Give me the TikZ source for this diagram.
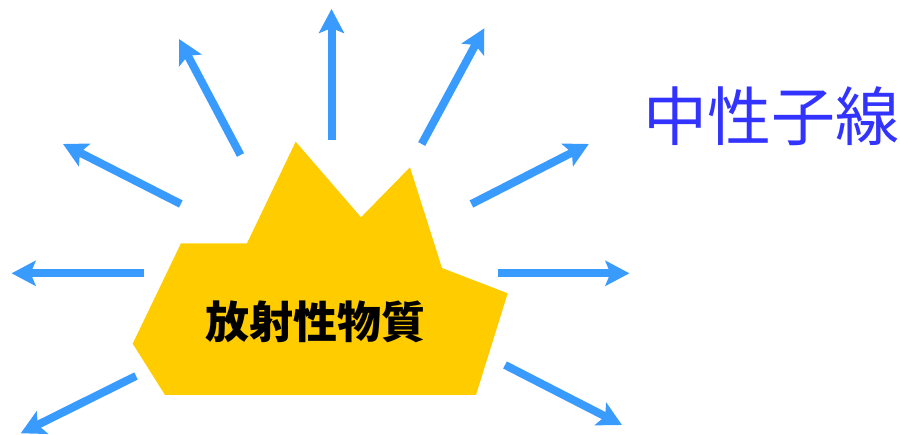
\documentclass[tikz,border=0pt]{standalone}
\usepackage{fontspec}
\newfontfamily\cjk{Noto Sans CJK JP}
\usetikzlibrary{arrows.meta}
\definecolor{rayblue}{RGB}{58,155,255}
\definecolor{matyellow}{RGB}{255,204,0}
\definecolor{labelblue}{RGB}{51,51,255}
\tikzset{
  ray/.style={draw=rayblue, line width=8pt, -{Stealth[length=24pt, width=25pt, inset=5pt]}},
  matter/.style={fill=matyellow, draw=none},
}
\begin{document}
\begin{tikzpicture}[x=1pt, y=-1pt]
\useasboundingbox (0,0) rectangle (900,435);
% radioactive material
\fill[matter] (295.7,141.7) -- (361,217.3) -- (410,167.3) -- (442,268) -- (507.7,293.3)
  -- (476,395) -- (165,395) -- (132.7,343.7) -- (181,243.3) -- (247,243.3) -- cycle;
\node[font=\cjk\bfseries\fontsize{44}{50}\selectfont, text=black, inner sep=0pt] (mat) at (315,322) {放射性物質};
% arrows
\coordinate (t1) at (331.5,140);   \coordinate (h1) at (331.5,9);
\coordinate (t2) at (240.5,155);   \coordinate (h2) at (179,39);
\coordinate (t3) at (421.7,144);   \coordinate (h3) at (484.3,28.3);
\coordinate (t4) at (180.8,204);   \coordinate (h4) at (63,144);
\coordinate (t5) at (471.4,204);   \coordinate (h5) at (588.8,144);
\coordinate (t6) at (143.5,273.3); \coordinate (h6) at (11.6,273.3);
\coordinate (t7) at (497.5,273.3); \coordinate (h7) at (629.4,273.3);
\coordinate (t8) at (136,376);     \coordinate (h8) at (20.7,433.3);
\coordinate (t9) at (505,365);     \coordinate (h9) at (622,425);
\foreach \i in {1,...,9} { \draw[ray] (t\i) -- (h\i); }
% label
\node[font=\cjk\fontsize{64}{70}\selectfont, text=labelblue, inner sep=0pt] (lbl) at (771,116) {中性子線};
\end{tikzpicture}
\end{document}
